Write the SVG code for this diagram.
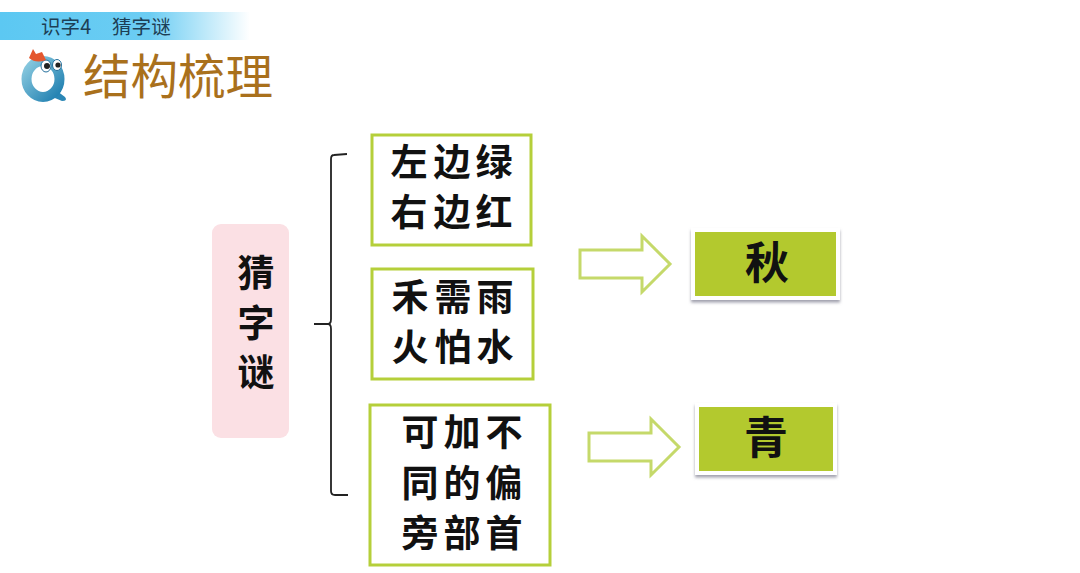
<svg xmlns="http://www.w3.org/2000/svg" width="1080" height="573" viewBox="0 0 1080 573">
<defs>
<linearGradient id="band" x1="0" y1="0" x2="1" y2="0"><stop offset="0" stop-color="#5cc8f2"/><stop offset="0.6" stop-color="#6ccdf3"/><stop offset="1" stop-color="#ffffff"/></linearGradient>
<linearGradient id="qfill" x1="0" y1="0" x2="1" y2="1"><stop offset="0" stop-color="#8ccbe0"/><stop offset="1" stop-color="#1f7fb0"/></linearGradient>
<filter id="shadow" x="-10%" y="-15%" width="120%" height="135%"><feDropShadow dx="0" dy="2.5" stdDeviation="1.5" flood-color="#8a8a9a" flood-opacity="0.8"/></filter>
</defs>
<style>
text{font-family:"Noto Sans CJK SC","Noto Sans",sans-serif;fill:#111}
.big{font-size:37px;font-weight:700;text-anchor:middle}
.ansT{font-size:44px;font-weight:700;text-anchor:middle}
.box{fill:#fff;stroke:#b5cf3a;stroke-width:3}
.ans{fill:#b3c92f;stroke:#fff;stroke-width:4;filter:url(#shadow)}
.arrow{fill:#fff;stroke:#c5d96a;stroke-width:3;stroke-linejoin:miter}
.brace{fill:none;stroke:#222;stroke-width:1.8}
.sub{font-size:19.6px;fill:#1d3f55}
</style>
<rect width="1080" height="573" fill="#fff"/>
<g id="header">
<rect x="0" y="12" width="250" height="28" fill="url(#band)"/>
<text class="sub" x="41" y="33.5">识字4</text>
<text class="sub" x="112" y="33.5">猜字谜</text>
<text x="83" y="94" font-size="47.5" style="fill:#a9701c">结构梳理</text>
</g>
<g id="q-icon">
<path d="M53 88 L65 97 Q68 101 62 101 L50 96Z" fill="#2a86b5"/>
<ellipse cx="43" cy="79" rx="16.5" ry="18" fill="none" stroke="url(#qfill)" stroke-width="10"/>
<ellipse cx="46" cy="66" rx="5" ry="6" fill="#fff" stroke="#236f9c"/><circle cx="47" cy="66" r="3" fill="#222"/>
<ellipse cx="57" cy="65" rx="4.5" ry="5.5" fill="#fff" stroke="#236f9c"/><circle cx="58" cy="65" r="2.6" fill="#222"/>
<path d="M29 58 L33 49 L36 54 L42 52 L46 60 Q36 64 29 58Z" fill="#e4572e"/>
</g>
<g id="connectors">
<path class="brace" d="M347 154 L334 155 Q331 155 331 159 V319 Q331 324 328 324 H314 H328 Q331 324 331 329 V491 Q331 495 335 495 L348 495"/>
<path class="arrow" d="M580 250 H642 V236 L670 264 L642 292 V278 H580Z"/>
<path class="arrow" d="M589 433 H651 V419 L679 447 L651 475 V461 H589Z"/>
</g>
<g id="root">
<rect x="212" y="224" width="77" height="214" rx="9" fill="#fbe0e4"/>
<text class="big" x="256" y="287">猜</text><text class="big" x="256" y="337">字</text><text class="big" x="256" y="386">谜</text>
</g>
<g id="riddle1">
<rect class="box" x="372" y="135" width="159" height="110"/>
<text class="big" x="409" y="176">左</text><text class="big" x="452" y="176">边</text><text class="big" x="494" y="176">绿</text>
<text class="big" x="409" y="226">右</text><text class="big" x="452" y="226">边</text><text class="big" x="494" y="226">红</text>
</g>
<g id="riddle2">
<rect class="box" x="372" y="269" width="161" height="110"/>
<text class="big" x="410" y="311">禾</text><text class="big" x="453" y="311">需</text><text class="big" x="495" y="311">雨</text>
<text class="big" x="410" y="361">火</text><text class="big" x="453" y="361">怕</text><text class="big" x="495" y="361">水</text>
</g>
<g id="riddle3">
<rect class="box" x="370" y="405" width="180" height="160"/>
<text class="big" x="420" y="446">可</text><text class="big" x="462" y="446">加</text><text class="big" x="504" y="446">不</text>
<text class="big" x="420" y="497">同</text><text class="big" x="462" y="497">的</text><text class="big" x="504" y="497">偏</text>
<text class="big" x="420" y="547">旁</text><text class="big" x="462" y="547">部</text><text class="big" x="504" y="547">首</text>
</g>
<g id="answer1">
<rect class="ans" x="693" y="230" width="145" height="68"/>
<text class="ansT" x="767" y="279">秋</text>
</g>
<g id="answer2">
<rect class="ans" x="697" y="405" width="138" height="68"/>
<text class="ansT" x="766" y="454">青</text>
</g>
</svg>
